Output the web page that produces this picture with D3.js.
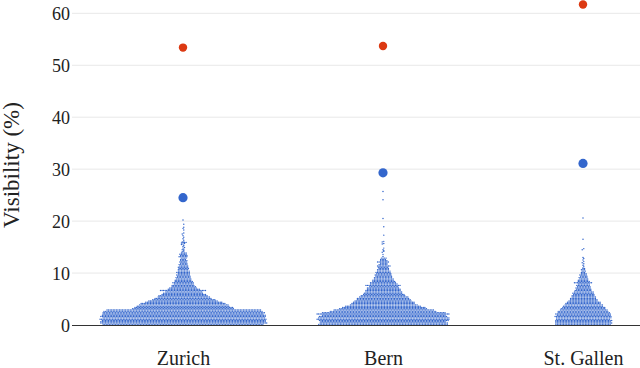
<!DOCTYPE html>
<html>
<head>
<meta charset="utf-8">
<script src="https://cdn.jsdelivr.net/npm/d3@7"></script>
<style>
  body { margin: 0; background: #fff; }
  #wykres text { font-family: 'Liberation Serif', 'Times New Roman', Times, serif !important; }
</style>
</head>
<body>
<svg id="wykres" width="640" height="368"></svg>
<script>
// kategorie i dane
let miasta = ['Zurich', 'Bern', 'St. Gallen'];
let yTicks = [0, 10, 20, 30, 40, 50, 60];
let binSize = 0.25; // szerokosc przedzialu w %

// liczba obserwacji w kolejnych przedzialach 0.25%
let zurichCounts = [104,108,107,106,108,105,107,106,104,105,103,100,
  66,64,60,58,55,50,45,41,37,34,32,29,26,24,30,21,18,16,15,13,14,12,11,10,
  10,9,9,8,9,8,7,7,7,6,6,5,5,5,4,4,6,5,5,4];
let bernCounts = [84,83,81,84,86,85,83,80,86,80,69,65,57,54,49,44,41,40,37,35,
  34,32,29,27,25,24,23,22,21,19,23,18,17,15,14,13,12,11,11,10,10,9,8,7,7,9,6,5,8,5,4,4];
let gallenCounts = [36,37,36,37,35,36,37,35,36,34,33,31,29,28,26,25,23,22,19,18,
  17,16,15,14,14,13,11,10,10,9,9,8,12,8,7,6,6,5,5,4,3,3,3,2];

// pojedyncze wartosci w "ogonie"
let zurichTail = [14.1,14.2,14.4,14.5,14.6,14.8,14.9,15.1,15.3,15.5,15.6,15.7,15.8,15.9,15.9,15.9,
  16.0,16.0,16.3,16.6,16.9,17.2,17.5,17.7,18.3,18.6,18.8,19.4,20.2];
let bernTail = [13.2,13.6,14.0,14.2,14.3,14.5,14.8,15.6,15.7,16.0,16.1,17.3,18.9,20.5,24.1,25.7];
let gallenTail = [11.0,11.3,11.5,11.8,12.0,12.2,12.5,12.8,13.0,14.5,14.7,16.5,20.6];

let niebieskie = [24.5, 29.3, 31.1]; // duze niebieskie punkty
let czerwone = [53.4, 53.7, 61.7];   // czerwone punkty

let W = 640, H = 368;
let krojPisma = 'Liberation Serif';
let svg = d3.select('#wykres');

let x = d3.scalePoint().domain(miasta).range([183, 583]);
let y = d3.scaleLinear().domain([0, 60]).range([325, 13.3]);

// siatka
svg.append('g').selectAll('line').data(yTicks.filter(d => d > 0)).join('line')
  .attr('x1', 72).attr('x2', W)
  .attr('y1', d => y(d)).attr('y2', d => y(d))
  .attr('stroke', '#e8e8e8').attr('stroke-width', 1);

// os y
let yAxis = d3.axisLeft(y).tickValues(yTicks).tickSize(0).tickPadding(0);
let gy = svg.append('g').attr('transform', 'translate(70,0)').call(yAxis)
  .attr('font-family', krojPisma);
gy.select('.domain').remove();
gy.selectAll('text').attr('font-family', krojPisma).attr('font-size', 18)
  .attr('fill', '#222').attr('dy', '0.35em');

svg.append('text')
  .attr('transform', 'translate(19,165) rotate(-90)')
  .attr('text-anchor', 'middle')
  .attr('font-family', krojPisma)
  .attr('font-size', 23)
  .attr('fill', '#222')
  .text('Visibility (%)');

// etykiety kategorii
let xAxis = d3.axisBottom(x).tickSize(0).tickPadding(0);
let gx = svg.append('g').attr('transform', 'translate(0,351)').call(xAxis)
  .attr('font-family', krojPisma);
gx.select('.domain').remove();
gx.selectAll('text').attr('font-family', krojPisma).attr('font-size', 20)
  .attr('fill', '#222').attr('dy', '0.71em');

// budowa punktow roju
let punkty = [];
function dodaj(miasto, counts, tail) {
  counts.forEach(function(n, b) {
    for (let k = 0; k < n; k++) punkty.push({miasto: miasto, bin: b, v: (b + 0.5) * binSize});
  });
  tail.forEach(function(v) {
    punkty.push({miasto: miasto, bin: Math.floor(v / binSize), v: v});
  });
}
dodaj('Zurich', zurichCounts, zurichTail);
dodaj('Bern', bernCounts, bernTail);
dodaj('St. Gallen', gallenCounts, gallenTail);

let sx = 1.55;
let grupy = d3.group(punkty, d => d.miasto, d => d.bin);
grupy.forEach(function(biny) {
  biny.forEach(function(arr, b) {
    let n = arr.length;
    arr.forEach(function(d, k) {
      d.dx = (k - (n - 1) / 2) * sx + (b % 2 ? 0.78 : 0);
    });
  });
});

svg.append('g').selectAll('circle').data(punkty).join('circle')
  .attr('cx', d => x(d.miasto) + d.dx)
  .attr('cy', d => y(d.v))
  .attr('r', 0.72)
  .attr('fill', '#3366cc');

// os x (linia zera)
svg.append('line').attr('x1', 72).attr('x2', W)
  .attr('y1', y(0) + 0.5).attr('y2', y(0) + 0.5)
  .attr('stroke', '#333').attr('stroke-width', 1.2);

svg.append('g').selectAll('circle').data(niebieskie).join('circle')
  .attr('cx', (d, i) => x(miasta[i]))
  .attr('cy', d => y(d))
  .attr('r', 4.6)
  .attr('fill', '#3366cc');

svg.append('g').selectAll('circle').data(czerwone).join('circle')
  .attr('cx', (d, i) => x(miasta[i]))
  .attr('cy', d => y(d))
  .attr('r', 4.2)
  .attr('fill', '#dc3912');
</script>
</body>
</html>
